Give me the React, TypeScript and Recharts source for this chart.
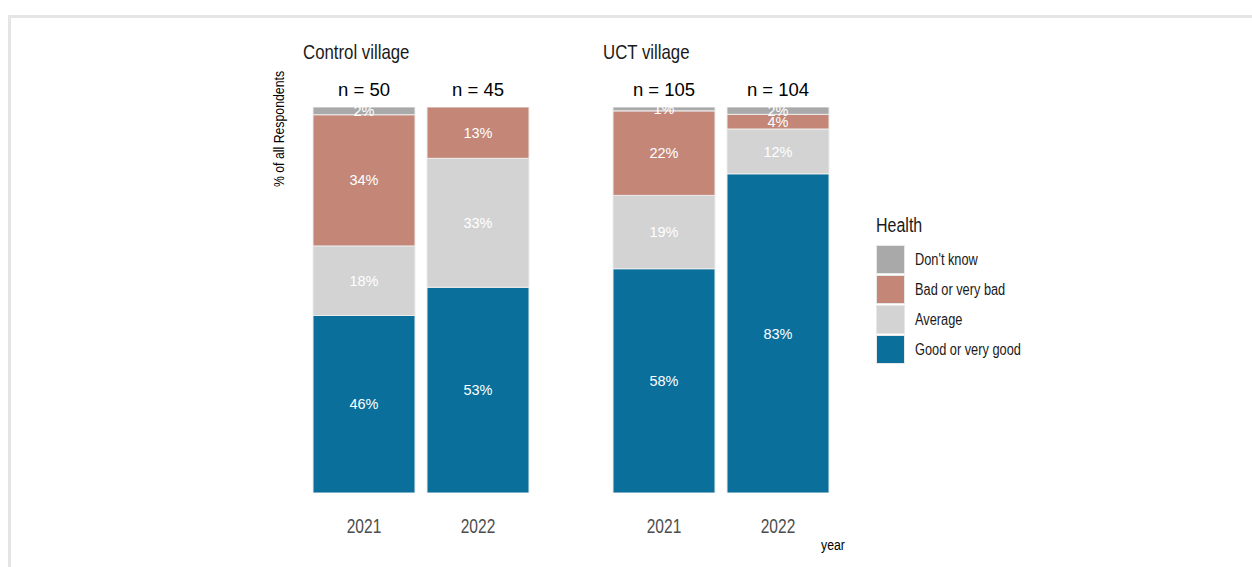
import React from 'react';
import { BarChart, Bar, XAxis, YAxis, LabelList } from 'recharts';

const years = ['2021', '2022'];
const categories = ["Don't know", 'Bad or very bad', 'Average', 'Good or very good'];
const categoryKeys = ['dk', 'bad', 'avg', 'good'];
const colors = ['#a9a9a9', '#c48777', '#d3d3d3', '#0b6f9b'];

const controlN = [50, 45];
const controlGood = [46, 53.3];
const controlAverage = [18, 33.4];
const controlBad = [34, 13.3];
const controlDontKnow = [2, 0];

const uctN = [105, 104];
const uctGood = [58.1, 82.7];
const uctAverage = [19.0, 11.6];
const uctBad = [21.9, 3.8];
const uctDontKnow = [1.0, 1.9];

const REGULAR = '"Liberation Sans", Arial, sans-serif';
const SQUEEZE = 0.82;

const build = (n: number[], good: number[], avg: number[], bad: number[], dk: number[]) =>
  years.map((y, i) => ({ year: y, n: n[i], good: good[i], avg: avg[i], bad: bad[i], dk: dk[i] }));

const controlData = build(controlN, controlGood, controlAverage, controlBad, controlDontKnow);
const uctData = build(uctN, uctGood, uctAverage, uctBad, uctDontKnow);

const fmt = (v: any) => (Number(v) > 0 ? Math.round(Number(v)) + '%' : '');

function NText({ x, y, rotate = 0, squeeze = SQUEEZE, children, ...rest }: any) {
  return (
    <text
      transform={`translate(${x} ${y}) rotate(${rotate}) scale(${squeeze} 1)`}
      x={0}
      y={0}
      fontFamily={REGULAR}
      {...rest}
    >
      {children}
    </text>
  );
}

function Facet({ data, left }: { data: any[]; left: number }) {
  const stackOrder = ['good', 'avg', 'bad', 'dk'];
  return (
    <div style={{ position: 'absolute', left, top: 60 }}>
      <BarChart width={228} height={480} data={data} margin={{ top: 0, right: 0, bottom: 0, left: 0 }} barCategoryGap={6}>
        <XAxis
          xAxisId="top"
          orientation="top"
          dataKey="year"
          height={47}
          axisLine={false}
          tickLine={false}
          tickSize={0}
          tickMargin={0}
          interval={0}
          tick={(p: any) => {
            const row = data.find((d) => d.year === p.payload.value);
            return (
              <text x={p.x} y={p.y} dy={-11} textAnchor="middle" fontSize={18.5} fill="#000" fontFamily={REGULAR}>
                {'n = ' + (row ? row.n : '')}
              </text>
            );
          }}
        />
        <XAxis
          dataKey="year"
          height={47}
          axisLine={false}
          tickLine={false}
          tickSize={0}
          tickMargin={0}
          interval={0}
          tick={(p: any) => (
            <NText x={p.x} y={p.y + 40} squeeze={0.76} textAnchor="middle" fontSize={20.5} fill="#4d4d4d">
              {p.payload.value}
            </NText>
          )}
        />
        <YAxis hide domain={[0, 100]} allowDataOverflow />
        {stackOrder.map((k) => {
          const idx = categoryKeys.indexOf(k);
          return (
            <Bar key={k} dataKey={k} stackId="s" fill={colors[idx]} stroke="#ececec" strokeWidth={1} isAnimationActive={false}>
              <LabelList dataKey={k} position="center" formatter={fmt} fill="#ffffff" stroke="none" fontSize={14.5} fontFamily={REGULAR} />
            </Bar>
          );
        })}
      </BarChart>
    </div>
  );
}

export default function App() {
  return (
    <div style={{ position: 'fixed', left: 0, top: 0, width: 1252, height: 567, background: '#fff', overflow: 'hidden' }}>
      <div
        style={{
          position: 'absolute',
          left: 8,
          top: 15,
          width: 1300,
          height: 600,
          borderTop: '3px solid #e3e6e5',
          borderLeft: '3px solid #e3e6e5',
        }}
      />
      <Facet data={controlData} left={307} />
      <Facet data={uctData} left={607} />
      <svg width={1252} height={567} style={{ position: 'absolute', left: 0, top: 0, pointerEvents: 'none' }}>
        <NText x={303} y={59} fontSize={20.5} fill="#1a1a1a">Control village</NText>
        <NText x={603} y={59} fontSize={20.5} fill="#1a1a1a">UCT village</NText>
        <NText x={284} y={129} rotate={-90} textAnchor="middle" fontSize={15} fill="#000">
          % of all Respondents
        </NText>
        <NText x={833} y={550} textAnchor="middle" fontSize={15} fill="#000">year</NText>
        <NText x={876} y={232} fontSize={19.5} fill="#1a1a1a">Health</NText>
        {categories.map((c, i) => (
          <g key={c}>
            <rect x={876.5} y={245.5 + 30 * i} width={28} height={28} fill={colors[i]} stroke="#e8e8e8" strokeWidth={1} />
            <NText x={915} y={264.5 + 30 * i} fontSize={15.6} fill="#1a1a1a">
              {c}
            </NText>
          </g>
        ))}
      </svg>
    </div>
  );
}
